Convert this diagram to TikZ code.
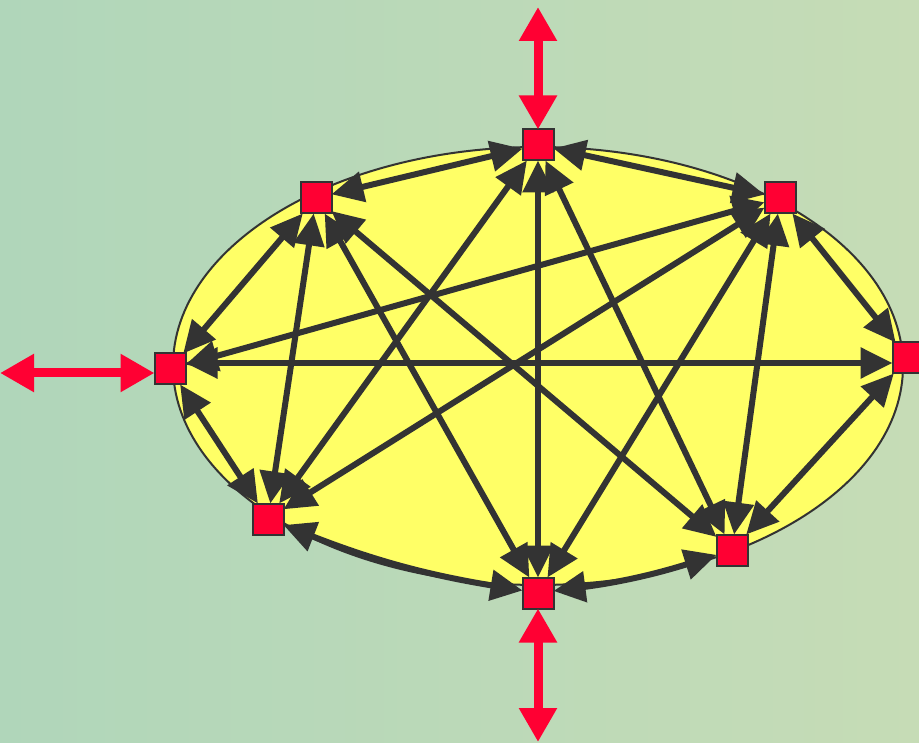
\documentclass[tikz,border=0pt]{standalone}
\usetikzlibrary{arrows.meta}
\definecolor{bgA}{RGB}{176,214,186}
\definecolor{bgB}{RGB}{198,220,182}
\definecolor{ellfill}{RGB}{255,255,102}
\definecolor{dk}{RGB}{51,51,51}
\definecolor{rd}{RGB}{255,0,51}
\begin{document}
\begin{tikzpicture}[x=1pt,y=-1pt,
  sq/.style={draw=dk,line width=2pt,fill=rd,minimum size=31pt,inner sep=0pt,outer sep=0pt},
  link/.style={draw=dk,line width=6pt,{Triangle[length=32pt,width=30pt]}-{Triangle[length=32pt,width=30pt]}},
  redarrow/.style={draw=rd,line width=9pt,{Triangle[length=34pt,width=36pt]}-{Triangle[length=34pt,width=36pt]}}]
\useasboundingbox (0,0) rectangle (919,743);
\shade[left color=bgA,right color=bgB] (0,0) rectangle (919,743);
\draw[dk,line width=2pt,fill=ellfill] (538,366) ellipse [x radius=365, y radius=219];
% nodes
\node[sq] (T)  at (538,145) {};
\node[sq] (TR) at (780,198) {};
\node[sq] (R)  at (908,358) {};
\node[sq] (BR) at (732,550) {};
\node[sq] (B)  at (538,593) {};
\node[sq] (BL) at (268,519) {};
\node[sq] (L)  at (170,369) {};
\node[sq] (TL) at (316,198) {};
% links
\draw[link] (T) -- (TL);
\draw[link] (T) -- (TR);
\draw[link] (T) -- (B);
\draw[link] (T) -- (BL);
\draw[link] (T) -- (BR);
\draw[link] (TL) -- (L);
\draw[link] (TL) -- (BL);
\draw[link] (TL) -- (BR);
\draw[link] (TL) -- (B);
\draw[link] (TR) -- (L);
\draw[link] (TR) -- (BL);
\draw[link] (TR) -- (B);
\draw[link] (TR) -- (BR);
\draw[link] (TR) -- (R);
\draw[link] ([yshift=6pt]L.east) -- ([yshift=-5pt]R.west);
\draw[link] (L) -- (BL);
\draw[link] (BL) to[bend right=6] (B);
\draw[link] (B) to[bend right=5] (BR);
\draw[link] (BR) -- (R);
% red arrows
\coordinate (topend) at (538,7);
\coordinate (botend) at (538,742);
\coordinate (leftend) at (0,373);
\draw[redarrow] (topend) -- (T);
\draw[redarrow] (B) -- (botend);
\draw[redarrow] (leftend) -- (leftend -| L.west);
\end{tikzpicture}
\end{document}
